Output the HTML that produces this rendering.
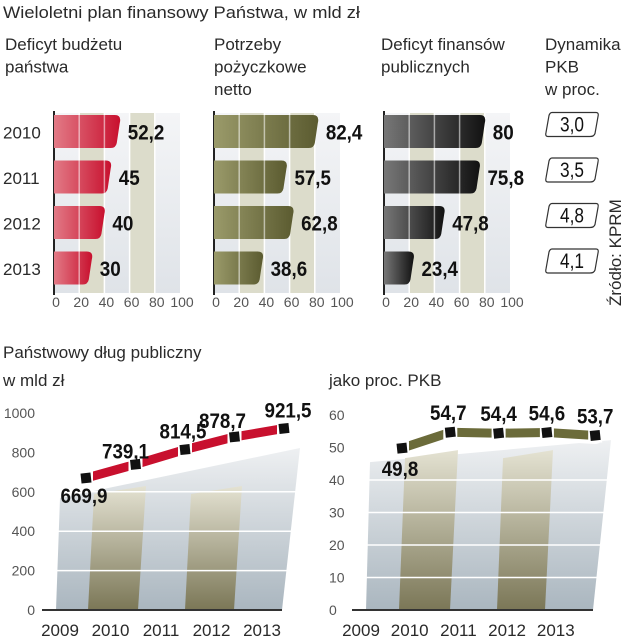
<!DOCTYPE html>
<html><head><meta charset="utf-8">
<style>
html,body{margin:0;padding:0;background:#fff;}
svg{display:block;font-family:"Liberation Sans",sans-serif;}
.t{fill:#2a2a2a;font-size:17px;}
.tk{fill:#555;font-size:14px;}
.v{font-family:"Liberation Sans Narrow","Liberation Sans",sans-serif;font-weight:bold;font-size:21px;fill:#111;}
</style></head>
<body>
<svg id="c" width="627" height="640" viewBox="0 0 627 640">
<defs>
<linearGradient id="gRed" x1="0" x2="1"><stop offset="0" stop-color="#e27a86"/><stop offset="1" stop-color="#c8102e"/></linearGradient>
<linearGradient id="gOl" x1="0" x2="1"><stop offset="0" stop-color="#9a9a6a"/><stop offset="1" stop-color="#5b5b30"/></linearGradient>
<linearGradient id="gBk" x1="0" x2="1"><stop offset="0" stop-color="#777"/><stop offset="1" stop-color="#111"/></linearGradient>
<linearGradient id="gBg" x1="0" y1="0" x2="0" y2="1"><stop offset="0" stop-color="#f4f5f7"/><stop offset="1" stop-color="#dfe3e8"/></linearGradient>
<linearGradient id="gBg2" x1="0" y1="0" x2="0" y2="1"><stop offset="0" stop-color="#eef0f2"/><stop offset="1" stop-color="#aab6bf"/></linearGradient>
<linearGradient id="gTan" x1="0" y1="0" x2="0" y2="1"><stop offset="0" stop-color="#e4e2d2"/><stop offset="1" stop-color="#7b7757"/></linearGradient>
</defs>
<text class="t" x="3" y="18" textLength="357" lengthAdjust="spacingAndGlyphs">Wieloletni plan finansowy Państwa, w mld zł</text>
<g id="heads"></g>
<g id="topg"></g>
<g id="bottom"></g>
</svg>
<script>
// ---- top bar charts data ----
const years = ["2010","2011","2012","2013"];
const deficitBudget = [52.2, 45, 40, 30];
const borrowingNeeds = [82.4, 57.5, 62.8, 38.6];
const publicDeficit = [80, 75.8, 47.8, 23.4];
const deficitBudgetLabels = ["52,2","45","40","30"];
const borrowingNeedsLabels = ["82,4","57,5","62,8","38,6"];
const publicDeficitLabels = ["80","75,8","47,8","23,4"];
const gdpGrowthLabels = ["3,0","3,5","4,8","4,1"];
const barTicks = [0,20,40,60,80,100];
// ---- bottom line charts data ----
const lineYears = ["2009","2010","2011","2012","2013"];
const debtValues = [669.9, 739.1, 814.5, 878.7, 921.5];
const debtLabels = ["669,9","739,1","814,5","878,7","921,5"];
const debtTicks = [0,200,400,600,800,1000];
const debtPctValues = [49.8, 54.7, 54.4, 54.6, 53.7];
const debtPctLabels = ["49,8","54,7","54,4","54,6","53,7"];
const pctTicks = [0,10,20,30,40,50,60];

const NS="http://www.w3.org/2000/svg";
function mk(tag, attrs, parent, txt){
  const e=document.createElementNS(NS,tag);
  for(const k in attrs) e.setAttribute(k,attrs[k]);
  if(txt!==undefined) e.textContent=txt;
  parent.appendChild(e); return e;
}
function narrow(t, s, dw){
  let w=0; for(const ch of String(s)) w += (ch===','? 5 : dw);
  t.setAttribute('textLength', w);
  t.setAttribute('lengthAdjust','spacingAndGlyphs');
}
const heads=document.getElementById('heads');
const topG=document.getElementById('topg');
const bottom=document.getElementById('bottom');

const hdrs=[[5,["Deficyt budżetu","państwa"],"header-budget-deficit"],[214,["Potrzeby","pożyczkowe","netto"],"header-borrowing-needs"],[381,["Deficyt finansów","publicznych"],"header-public-deficit"],[545,["Dynamika","PKB","w proc."],"header-gdp-growth"]];
hdrs.forEach(h=>{
  const t=mk('text',{class:'t',x:h[0],y:50},heads);
  
  
  h[1].forEach((l,i)=>{mk('tspan',{x:h[0],y:50+i*22.5},t,l);});
});

const rowY0=115, rowPitch=45.5, barH=33, sc=1.26;
const panels=[[54,deficitBudget,deficitBudgetLabels,'url(#gRed)','budget-deficit'],[214,borrowingNeeds,borrowingNeedsLabels,'url(#gOl)','borrowing-needs'],[384,publicDeficit,publicDeficitLabels,'url(#gBk)','public-deficit']];
panels.forEach(p=>{
  const x0=p[0], xs=v=>x0+v*sc;
  const g=mk('g',{},topG);
  
  
  for(let i=0;i<5;i++){
    const tan=(i===1||i===3);
    mk('rect',{x:xs(i*20),y:rowY0-2,width:20*sc,height:180,fill:tan?'#dcdccb':'url(#gBg)'},g);
  }
  for(let i=1;i<5;i++) mk('line',{x1:xs(i*20),x2:xs(i*20),y1:rowY0-2,y2:rowY0+178,stroke:'#fff','stroke-width':1.5},g);
  mk('line',{x1:x0,x2:x0,y1:rowY0-4,y2:rowY0+180,stroke:'#222','stroke-width':2},g);
  p[1].forEach((v,i)=>{
    const y=rowY0+i*rowPitch, xe=xs(v);
    const b=mk('path',{d:`M${x0},${y} H${xe-5} Q${xe+2},${y} ${xe},${y+8} L${xe-3},${y+barH-5} Q${xe-4},${y+barH} ${xe-9},${y+barH} H${x0} Z`,fill:p[3]},g);
    
    
    for(let k=1;k<5;k++){ if(xs(k*20)<xe-6) mk('line',{x1:xs(k*20),x2:xs(k*20),y1:y,y2:y+barH,stroke:'rgba(255,255,255,0.55)','stroke-width':1.5},g); }
    const t=mk('text',{class:'v',x:xe+8,y:y+barH/2+8,'font-size':'22'},g,p[2][i]);
    narrow(t,p[2][i],10.5);
    
    
  });
  barTicks.forEach(tk=>{
    const t=mk('text',{class:'tk',x:xs(tk)+2,y:307,'text-anchor':'middle'},g,tk);
    
    
  });
});
years.forEach((yr,i)=>{
  const t=mk('text',{class:'t',x:3,y:rowY0+i*rowPitch+barH/2+7,'font-size':'18'},topG,yr);
  
  
});
gdpGrowthLabels.forEach((l,i)=>{
  const cy=rowY0+9+i*rowPitch+0.5;
  const b=mk('path',{d:`M552,${cy-12} H596 Q599,${cy-12} 598,${cy-8} L595,${cy+9} Q594,${cy+12} 590,${cy+12} H548 Q545,${cy+12} 546,${cy+8} L549,${cy-9} Q550,${cy-12} 552,${cy-12} Z`,fill:'#fff',stroke:'#333','stroke-width':1.2},topG);
  
  
  const t=mk('text',{class:'v',x:572,y:cy+7,'text-anchor':'middle','font-size':'19'},topG,l);
  t.style.fontWeight='normal';
  narrow(t,l,9.5);
  
  
});
const src=mk('text',{class:'t',transform:'translate(621,306) rotate(-90)','font-size':'16'},topG,'Źródło: KPRM');



function lineChart(cfg){
  const g=mk('g',{},bottom);
  
  
  const ys=v=>cfg.y0-v*cfg.ppu;
  const xp=i=>cfg.px0+i*cfg.pstep;
  const topY=ys(cfg.values[0])+cfg.bgOff;
  mk('polygon',{points:`${cfg.ax0+14},${cfg.y0} ${cfg.ax0+18},${topY} ${cfg.ax1+18},${topY-cfg.bgRise} ${cfg.ax1},${cfg.y0}`,fill:'url(#gBg2)'},g);
  cfg.tan.forEach(c=>{
    mk('polygon',{points:`${c[0]},${cfg.y0} ${c[0]+6},${topY-4} ${c[1]+8},${topY-12} ${c[1]},${cfg.y0}`,fill:'url(#gTan)'},g);
  });
  cfg.ticks.forEach(tk=>{
    if(tk>0 && ys(tk)>topY-cfg.bgRise+8) mk('line',{x1:cfg.ax0+14,x2:cfg.ax1+14,y1:ys(tk),y2:ys(tk),stroke:'#fff','stroke-width':1.5},g);
    const t=mk('text',{class:'tk',x:cfg.tx,y:ys(tk)+5,'text-anchor':cfg.anchor},g,tk);
    
    
  });
  mk('line',{x1:cfg.ax0,x2:cfg.ax1,y1:cfg.y0,y2:cfg.y0,stroke:'#333','stroke-width':2},g);
  lineYears.forEach((yr,i)=>{
    const t=mk('text',{class:'t',x:cfg.yx0+i*cfg.ystep,y:636,'text-anchor':'middle','font-size':'17'},g,yr);
    
    
  });
  const pts=cfg.values.map((v,i)=>`${xp(i)},${ys(v)}`).join(' ');
  mk('polyline',{points:pts,fill:'none',stroke:'#fff','stroke-width':17,'stroke-linejoin':'round','stroke-linecap':'round'},g);
  const ln=mk('polyline',{points:pts,fill:'none',stroke:cfg.color,'stroke-width':9},g);
  
  
  cfg.values.forEach((v,i)=>{
    mk('rect',{x:xp(i)-7,y:ys(v)-7,width:14,height:14,fill:'#fff'},g);
    const m=mk('rect',{x:xp(i)-5,y:ys(v)-5,width:10,height:10,fill:'#111',transform:`rotate(-6 ${xp(i)} ${ys(v)})`},g);
    
    
    const o=cfg.lbl[i];
    const t=mk('text',{class:'v',x:xp(i)+o[0],y:ys(v)+o[1],'text-anchor':'middle','font-size':'22'},g,cfg.labels[i]);
    narrow(t,cfg.labels[i],10.5);
    if(i===cfg.red) t.setAttribute('fill','#c8102e');
    
    
  });
}
const t1=mk('text',{class:'t',x:3,y:358},bottom,'Państwowy dług publiczny');
 
const t2=mk('text',{class:'t',x:3,y:386},bottom,'w mld zł');
 
const t3=mk('text',{class:'t',x:329,y:386},bottom,'jako proc. PKB');
 

lineChart({name:'debt-chart',values:debtValues,labels:debtLabels,ticks:debtTicks,y0:610,ppu:0.197,px0:86,pstep:49.5,ax0:42,ax1:282,tx:35,anchor:'end',yx0:60,ystep:50.5,tan:[[88,138],[185,234]],color:'#c8102e',red:4,bgOff:20,bgRise:50,
  lbl:[[-2,25],[-10,-6],[-2,-11],[-12,-9],[4,-11]]});
lineChart({name:'debt-pct-chart',values:debtPctValues,labels:debtPctLabels,ticks:pctTicks,y0:610,ppu:3.25,px0:402,pstep:48.3,ax0:352,ax1:593,tx:329,anchor:'start',yx0:361,ystep:48.7,tan:[[399,450],[497,545]],color:'#6b6b3a',red:1,bgOff:14,bgRise:22,
  lbl:[[-2,28],[-2,-12],[0,-12],[0,-12],[0,-12]]});
</script>
</body></html>
